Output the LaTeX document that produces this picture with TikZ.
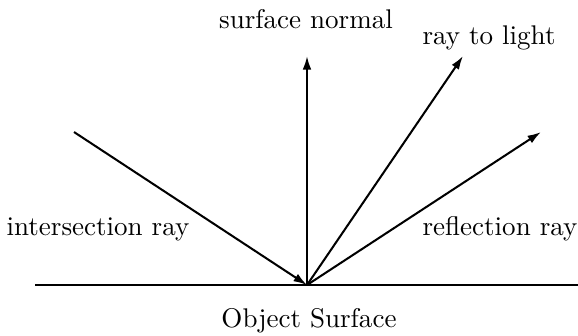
\documentclass[tikz,border=0pt]{standalone}
\usetikzlibrary{arrows.meta}
\begin{document}
\begin{tikzpicture}[x=0.37pt,y=-0.37pt,
  ray/.style={line width=0.75pt,-{Latex[length=5pt,width=3.2pt]}},
  surf/.style={line width=0.85pt},
  lbl/.style={inner sep=0pt,anchor=base}]
\useasboundingbox (0,0) rectangle (578,335);
\coordinate (P) at (307,285);
\coordinate (L) at (35,285);
\coordinate (R) at (578,285);
\coordinate (I) at (74,132);
\coordinate (N) at (307,56);
\coordinate (T) at (463,56);
\coordinate (F) at (541,132);
\draw[surf] (L) -- (R);
\draw[ray] (I) -- (P);
\draw[ray] (P) -- (N);
\draw[ray] (P) -- (T);
\draw[ray] (P) -- (F);
\node[lbl] (ln) at (306,28) {surface normal};
\node[lbl] (lt) at (489,44) {ray to light};
\node[lbl] (li) at (98,235) {intersection ray};
\node[lbl] (lr) at (500,235) {reflection ray};
\node[lbl] (lo) at (309,327) {Object Surface};
\end{tikzpicture}
\end{document}
